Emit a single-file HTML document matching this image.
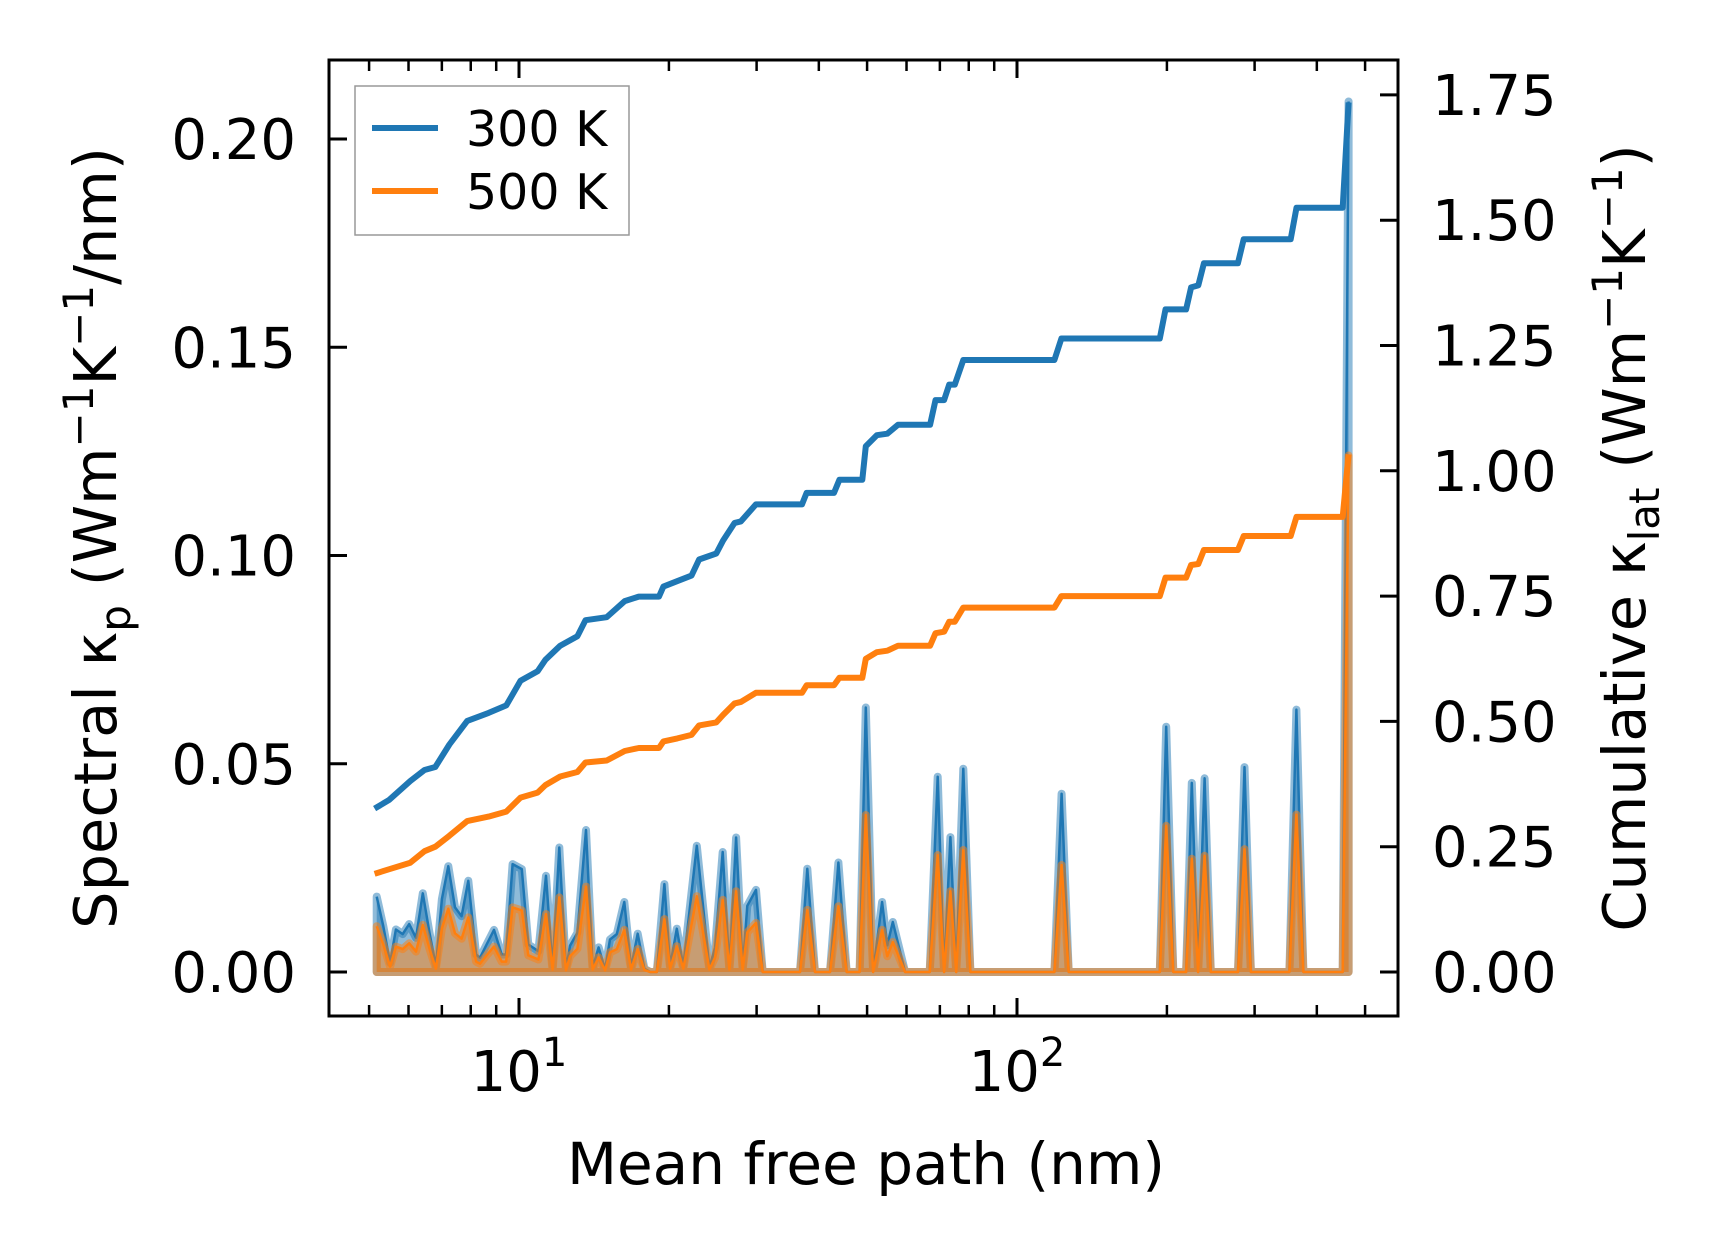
<!DOCTYPE html>
<html><head><meta charset="utf-8"><style>
html,body{margin:0;padding:0;background:#fff;}
svg{display:block;font-family:"DejaVu Sans","Liberation Sans",sans-serif;}
</style></head><body>
<svg id="chart" width="1716" height="1254" viewBox="0 0 1716 1254" xmlns="http://www.w3.org/2000/svg">
<defs><clipPath id="plotclip"><rect x="329" y="60" width="1069" height="956"/></clipPath></defs>
<rect x="0" y="0" width="1716" height="1254" fill="#fff"/>
<g id="spectral" clip-path="url(#plotclip)"></g>
<g id="cumul" clip-path="url(#plotclip)"></g>
<g id="axes"></g>
<rect x="329" y="60" width="1069" height="956" fill="none" stroke="#000" stroke-width="3"/>
<g>
  <rect x="355" y="86" width="274" height="149" fill="#fff" fill-opacity="0.8" stroke="#999" stroke-width="1.5"/>
  <line x1="372" y1="128" x2="438" y2="128" stroke="#1f77b4" stroke-width="6"/>
  <text x="466" y="146" font-size="49">300 K</text>
  <line x1="372" y1="191" x2="438" y2="191" stroke="#ff7f0e" stroke-width="6"/>
  <text x="466" y="209" font-size="49">500 K</text>
</g>
<text x="866" y="1184" font-size="58" text-anchor="middle">Mean free path (nm)</text>
<text transform="translate(116,538) rotate(-90)" font-size="59" text-anchor="middle">Spectral κ<tspan font-size="42" dy="14">p</tspan><tspan dy="-14"> (Wm</tspan><tspan font-size="42" dy="-23">−1</tspan><tspan dy="23">K</tspan><tspan font-size="42" dy="-23">−1</tspan><tspan dy="23">/nm)</tspan></text>
<text transform="translate(1645,538) rotate(-90)" font-size="59" text-anchor="middle">Cumulative κ<tspan font-size="42" dy="14">lat</tspan><tspan dy="-14"> (Wm</tspan><tspan font-size="42" dy="-23">−1</tspan><tspan dy="23">K</tspan><tspan font-size="42" dy="-23">−1</tspan><tspan dy="23">)</tspan></text>
</svg>
<script>
// Spectral data (mean free path in nm, kappa_p in W/m/K/nm)
const specX = [5.18,5.34,5.51,5.66,5.84,6.02,6.21,6.41,6.61,6.81,7.00,7.21,7.44,7.67,7.91,8.20,8.35,8.61,8.91,9.23,9.42,
 9.71,10.13,10.44,10.94,11.33,11.68,12.05,12.43,12.66,13.10,13.63,14.06,14.45,14.89,15.23,15.72,16.27,16.79,17.31,17.86,
 18.33,18.91,19.59,20.11,20.74,21.38,22.75,24.12,24.76,25.65,26.45,27.28,28.13,28.74,29.92,30.86,36.67,37.93,39.29,42.13,43.79,
 45.5,48.3,49.7,51.4,53.6,54.9,56.3,59.6,66.8,69.3,71.4,73.5,75.5,78.0,80.6,
 118.9,122.9,127,193.5,199.3,206,218.6,224.4,231,238.1,245,277.8,286.3,294.9,352.3,364,376,450.8,463.4];
const spec300 = [.0181,.0110,.0022,.0102,.0091,.0115,.0082,.0189,.0094,.0014,.0175,.0254,.0155,.0134,.0219,.0042,.0034,.0066,.0101,.0042,.0042,
 .0259,.0247,.0066,.0050,.0231,.0010,.0299,.0006,.0063,.0094,.0341,.0010,.0059,.0006,.0078,.0091,.0168,.0010,.0092,.0008,
 0,0,.0211,.0014,.0104,.0014,.0303,.0010,.0059,.0288,.0010,.0323,.0010,.0159,.0197,0,0,.0248,0,0,.0263,
 0,0,.0635,0,.0168,.0064,.0120,0,0,.0469,0,.0324,0,.0488,0,
 0,.0428,0,0,.0589,0,0,.0454,0,.0465,0,0,.0492,0,0,.0630,0,0,0.209];
const spec500 = [.0110,.0066,.0013,.0061,.0055,.0069,.0049,.0113,.0056,.0008,.0105,.0152,.0093,.0080,.0131,.0025,.0020,.0040,.0061,.0025,.0025,
 .0155,.0148,.0040,.0030,.0139,.0006,.0179,.0004,.0038,.0056,.0205,.0006,.0035,.0004,.0047,.0055,.0101,.0006,.0055,.0005,
 0,0,.0127,.0008,.0062,.0008,.0182,.0006,.0035,.0173,.0006,.0194,.0006,.0095,.0118,0,0,.0149,0,0,.0158,
 0,0,.0377,0,.0101,.0038,.0072,0,0,.0281,0,.0194,0,.0293,0,
 0,.0257,0,0,.0351,0,0,.0272,0,.0279,0,0,.0295,0,0,.0378,0,0,.124];
// Cumulative data
const cumX = [5.13,5.48,6.05,6.46,6.79,7.25,7.87,8.69,9.43,10.07,10.9,11.3,12.1,13.1,13.6,15.0,16.3,17.4,19.1,19.5,20.8,22.2,23.0,24.9,25.7,27.1,27.9,29.9,37.0,37.8,42.9,44.0,48.9,49.7,52.3,54.9,57.7,66.9,68.6,71.4,73.1,75.0,78.0,118.9,122.8,193.5,198.7,218.6,223.7,231.2,237.3,277.7,285.2,354.5,364.1,450.8,463.4];
const cum300 = [0.326,0.343,0.381,0.403,0.409,0.454,0.501,0.517,0.532,0.581,0.600,0.623,0.651,0.670,0.702,0.708,0.740,0.749,0.749,0.769,0.780,0.791,0.823,0.835,0.861,0.896,0.899,0.933,0.933,0.956,0.956,0.982,0.982,1.049,1.071,1.074,1.092,1.092,1.141,1.141,1.172,1.172,1.221,1.221,1.264,1.264,1.322,1.322,1.366,1.370,1.414,1.414,1.462,1.462,1.525,1.525,1.735];
const cum500 = [0.196,0.205,0.218,0.241,0.250,0.272,0.301,0.310,0.320,0.348,0.358,0.373,0.390,0.399,0.418,0.422,0.441,0.447,0.447,0.460,0.466,0.473,0.492,0.498,0.513,0.536,0.539,0.557,0.557,0.572,0.572,0.587,0.587,0.625,0.638,0.641,0.651,0.651,0.676,0.679,0.699,0.699,0.727,0.727,0.750,0.750,0.787,0.787,0.812,0.814,0.842,0.842,0.870,0.870,0.908,0.908,1.033];
// Ticks
const leftTicks = [0.00,0.05,0.10,0.15,0.20];
const leftTickLabels = ["0.00","0.05","0.10","0.15","0.20"];
const rightTicks = [0,0.25,0.5,0.75,1.0,1.25,1.5,1.75];
const rightTickLabels = ["0.00","0.25","0.50","0.75","1.00","1.25","1.50","1.75"];
const xMajor = [10,100];
const xMajorExp = ["1","2"];
const xMinor = [5,6,7,8,9,20,30,40,50,60,70,80,90,200,300,400,500];

const NS = "http://www.w3.org/2000/svg";
function xs(v){ return 519 + (Math.log10(v)-1)*498; }
function yL(v){ return 972 - v*4165; }
function yR(v){ return 972 - v*501.2; }
function mk(tag, attrs, parent){ const e=document.createElementNS(NS,tag); for(const k in attrs) e.setAttribute(k,attrs[k]); parent.appendChild(e); return e; }

const spec = document.getElementById('spectral');
function drawSpectral(vals, color, nm){
  const n = Math.min(specX.length, vals.length);
  let line = '';
  for(let i=0;i<n;i++) line += (i?'L':'M') + xs(specX[i]).toFixed(1) + ',' + yL(vals[i]).toFixed(1);
  const area = line + 'L' + xs(specX[n-1]).toFixed(1) + ',' + yL(0) + 'L' + xs(specX[0]).toFixed(1) + ',' + yL(0) + 'Z';
  const f = mk('path',{d:area, fill:color, 'fill-opacity':0.5, stroke:color, 'stroke-opacity':0.5, 'stroke-width':8, 'stroke-linejoin':'round'}, spec);
  
  
  const l = mk('path',{d:line, fill:'none', stroke:color, 'stroke-width':2.5, 'stroke-linejoin':'round'}, spec);
  
  
}
drawSpectral(spec300, '#1f77b4', 'spectral-300k');
drawSpectral(spec500, '#ff7f0e', 'spectral-500k');

const cum = document.getElementById('cumul');
function drawCum(vals, color, nm){
  const n = Math.min(cumX.length, vals.length);
  let d='';
  for(let i=0;i<n;i++) d += (i?'L':'M') + xs(cumX[i]).toFixed(1) + ',' + yR(vals[i]).toFixed(1);
  const p = mk('path',{d:d, fill:'none', stroke:color, 'stroke-width':6, 'stroke-linejoin':'round'}, cum);
  
  
}
drawCum(cum500, '#ff7f0e', 'cumulative-500k-line');
drawCum(cum300, '#1f77b4', 'cumulative-300k-line');

const ax = document.getElementById('axes');
leftTicks.forEach((v,i)=>{
  const y = yL(v);
  const t = mk('line',{x1:329,x2:347,y1:y,y2:y,stroke:'#000','stroke-width':3}, ax);
  
  
  const tx = mk('text',{x:296,y:y+20,'font-size':56,'text-anchor':'end'}, ax);
  tx.textContent = leftTickLabels[i];
  
  
});
rightTicks.forEach((v,i)=>{
  const y = yR(v);
  const t = mk('line',{x1:1380,x2:1398,y1:y,y2:y,stroke:'#000','stroke-width':3}, ax);
  
  
  const tx = mk('text',{x:1432,y:y+20,'font-size':56,'text-anchor':'start'}, ax);
  tx.textContent = rightTickLabels[i];
  
  
});
xMajor.forEach((v,i)=>{
  const x = xs(v);
  const b = mk('line',{x1:x,x2:x,y1:1016,y2:998,stroke:'#000','stroke-width':3}, ax);
  
  
  const t = mk('line',{x1:x,x2:x,y1:60,y2:78,stroke:'#000','stroke-width':3}, ax);
  
  
  const tx = mk('text',{x:x,y:1091,'font-size':56,'text-anchor':'middle'}, ax);
  
  
  tx.textContent = '10';
  const sup = mk('tspan',{'font-size':40,dy:-25}, tx);
  sup.textContent = xMajorExp[i];
});
xMinor.forEach(v=>{
  const x = xs(v);
  const b = mk('line',{x1:x,x2:x,y1:1016,y2:1005,stroke:'#000','stroke-width':2.5}, ax);
  
  
  const t = mk('line',{x1:x,x2:x,y1:60,y2:71,stroke:'#000','stroke-width':2.5}, ax);
  
  
});
</script>
</body></html>
